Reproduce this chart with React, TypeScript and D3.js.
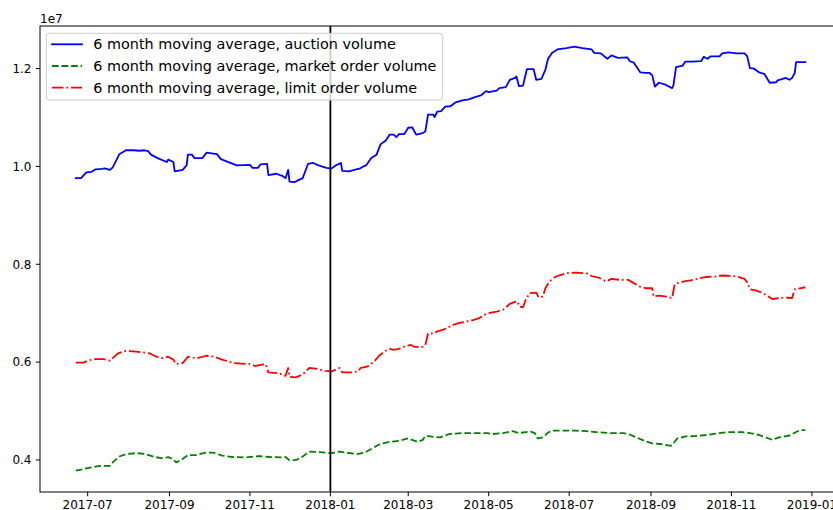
import * as d3 from "d3";

// 6-month moving averages, values in millions (axis shows them as x1e7)
const auctionDates = [
  "2017-06-22", "2017-06-26", "2017-06-30", "2017-07-04", "2017-07-07", "2017-07-12", "2017-07-14", "2017-07-18", "2017-07-20", "2017-07-23",
  "2017-07-25", "2017-07-30", "2017-08-05", "2017-08-09", "2017-08-13", "2017-08-16", "2017-08-18", "2017-08-23", "2017-08-30", "2017-08-31",
  "2017-09-04", "2017-09-05", "2017-09-11", "2017-09-14", "2017-09-15", "2017-09-18", "2017-09-20", "2017-09-26", "2017-09-29", "2017-10-07",
  "2017-10-10", "2017-10-22", "2017-11-01", "2017-11-03", "2017-11-07", "2017-11-09", "2017-11-14", "2017-11-15", "2017-11-21", "2017-11-26",
  "2017-11-28", "2017-11-30", "2017-12-01", "2017-12-05", "2017-12-07", "2017-12-11", "2017-12-15", "2017-12-19", "2017-12-23", "2017-12-29",
  "2018-01-02", "2018-01-05", "2018-01-09", "2018-01-10", "2018-01-15", "2018-01-22", "2018-01-23", "2018-01-26", "2018-01-28", "2018-02-01",
  "2018-02-05", "2018-02-08", "2018-02-12", "2018-02-15", "2018-02-18", "2018-02-20", "2018-02-22", "2018-02-26", "2018-03-01", "2018-03-04",
  "2018-03-07", "2018-03-12", "2018-03-14", "2018-03-16", "2018-03-20", "2018-03-21", "2018-03-23", "2018-03-26", "2018-03-29", "2018-04-02",
  "2018-04-06", "2018-04-11", "2018-04-16", "2018-04-20", "2018-04-25", "2018-04-29", "2018-05-01", "2018-05-07", "2018-05-09", "2018-05-14",
  "2018-05-17", "2018-05-21", "2018-05-22", "2018-05-24", "2018-05-27", "2018-05-30", "2018-06-04", "2018-06-06", "2018-06-10", "2018-06-13",
  "2018-06-15", "2018-06-18", "2018-06-22", "2018-06-29", "2018-07-05", "2018-07-11", "2018-07-18", "2018-07-20", "2018-07-25", "2018-07-29",
  "2018-07-30", "2018-08-02", "2018-08-07", "2018-08-14", "2018-08-16", "2018-08-19", "2018-08-24", "2018-08-28", "2018-08-31", "2018-09-02",
  "2018-09-04", "2018-09-07", "2018-09-12", "2018-09-17", "2018-09-18", "2018-09-20", "2018-09-25", "2018-09-27", "2018-10-02", "2018-10-09",
  "2018-10-11", "2018-10-14", "2018-10-16", "2018-10-23", "2018-10-25", "2018-10-30", "2018-11-05", "2018-11-11", "2018-11-13", "2018-11-15",
  "2018-11-18", "2018-11-22", "2018-11-26", "2018-11-30", "2018-12-05", "2018-12-06", "2018-12-10", "2018-12-12", "2018-12-15", "2018-12-17",
  "2018-12-19", "2018-12-20", "2018-12-27",
];
const auctionVolume = [
  9.76, 9.76, 9.88, 9.89, 9.94, 9.95, 9.96, 9.93, 9.98, 10.14,
  10.25, 10.33, 10.33, 10.32, 10.33, 10.31, 10.24, 10.17, 10.09, 10.14,
  10.09, 9.9, 9.93, 10.02, 10.24, 10.24, 10.17, 10.17, 10.28, 10.25,
  10.15, 10.02, 10.03, 9.97, 9.97, 10.04, 10.05, 9.82, 9.85, 9.8,
  9.76, 9.93, 9.69, 9.68, 9.71, 9.76, 10.05, 10.07, 10.02, 9.97,
  9.96, 10.02, 10.07, 9.91, 9.9, 9.95, 9.95, 10.0, 10.02, 10.17,
  10.24, 10.45, 10.53, 10.65, 10.65, 10.6, 10.66, 10.66, 10.79, 10.8,
  10.65, 10.68, 10.72, 11.06, 11.06, 11.01, 11.12, 11.13, 11.22, 11.23,
  11.31, 11.35, 11.37, 11.41, 11.45, 11.54, 11.52, 11.55, 11.6, 11.62,
  11.77, 11.81, 11.84, 11.64, 11.65, 11.99, 11.99, 11.77, 11.79, 11.98,
  12.2, 12.32, 12.39, 12.42, 12.45, 12.42, 12.39, 12.32, 12.31, 12.22,
  12.2, 12.27, 12.22, 12.23, 12.15, 12.12, 11.92, 11.91, 11.91, 11.86,
  11.63, 11.71, 11.67, 11.6, 11.65, 12.03, 12.06, 12.14, 12.14, 12.15,
  12.24, 12.2, 12.25, 12.25, 12.31, 12.33, 12.31, 12.31, 12.25, 12.01,
  12.0, 11.92, 11.89, 11.71, 11.72, 11.76, 11.79, 11.81, 11.77, 11.81,
  11.91, 12.13, 12.13,
];

const marketDates = [
  "2017-06-22", "2017-06-26", "2017-07-02", "2017-07-10", "2017-07-18", "2017-07-20", "2017-07-25", "2017-07-30", "2017-08-07", "2017-08-14",
  "2017-08-21", "2017-08-27", "2017-08-31", "2017-09-04", "2017-09-06", "2017-09-10", "2017-09-15", "2017-09-21", "2017-09-29", "2017-10-04",
  "2017-10-11", "2017-10-19", "2017-10-29", "2017-11-08", "2017-11-16", "2017-11-26", "2017-11-28", "2017-12-01", "2017-12-06", "2017-12-11",
  "2017-12-16", "2017-12-24", "2018-01-02", "2018-01-08", "2018-01-13", "2018-01-21", "2018-01-27", "2018-02-02", "2018-02-08", "2018-02-15",
  "2018-02-22", "2018-03-01", "2018-03-08", "2018-03-12", "2018-03-14", "2018-03-18", "2018-03-25", "2018-04-01", "2018-04-11", "2018-04-24",
  "2018-04-30", "2018-05-04", "2018-05-12", "2018-05-19", "2018-05-24", "2018-05-29", "2018-06-02", "2018-06-05", "2018-06-07", "2018-06-11",
  "2018-06-15", "2018-06-18", "2018-06-26", "2018-07-06", "2018-07-14", "2018-07-21", "2018-07-31", "2018-08-11", "2018-08-15", "2018-08-21",
  "2018-08-27", "2018-09-02", "2018-09-10", "2018-09-16", "2018-09-18", "2018-09-21", "2018-09-27", "2018-10-05", "2018-10-13", "2018-10-23",
  "2018-10-30", "2018-11-09", "2018-11-15", "2018-11-22", "2018-11-27", "2018-12-02", "2018-12-07", "2018-12-15", "2018-12-20", "2018-12-23",
  "2018-12-27",
];
const marketVolume = [
  3.78, 3.8, 3.84, 3.88, 3.88, 3.95, 4.07, 4.12, 4.14, 4.12,
  4.06, 4.03, 4.06, 4.01, 3.95, 4.0, 4.1, 4.1, 4.15, 4.15,
  4.09, 4.06, 4.05, 4.08, 4.06, 4.05, 4.06, 3.99, 4.0, 4.07,
  4.17, 4.16, 4.14, 4.17, 4.15, 4.12, 4.15, 4.24, 4.33, 4.37,
  4.39, 4.44, 4.37, 4.41, 4.49, 4.48, 4.46, 4.53, 4.55, 4.55,
  4.55, 4.53, 4.55, 4.59, 4.55, 4.57, 4.58, 4.55, 4.44, 4.46,
  4.56, 4.6, 4.6, 4.6, 4.59, 4.57, 4.55, 4.55, 4.53, 4.46,
  4.39, 4.34, 4.32, 4.29, 4.34, 4.44, 4.48, 4.49, 4.51, 4.55,
  4.57, 4.57, 4.55, 4.51, 4.46, 4.41, 4.46, 4.5, 4.57, 4.61,
  4.61,
];

const limitDates = [
  "2017-06-22", "2017-06-28", "2017-07-01", "2017-07-06", "2017-07-13", "2017-07-18", "2017-07-20", "2017-07-24", "2017-07-30", "2017-08-05",
  "2017-08-12", "2017-08-17", "2017-08-22", "2017-08-27", "2017-08-31", "2017-09-04", "2017-09-06", "2017-09-11", "2017-09-15", "2017-09-19",
  "2017-09-22", "2017-09-29", "2017-10-05", "2017-10-11", "2017-10-20", "2017-11-01", "2017-11-05", "2017-11-08", "2017-11-13", "2017-11-15",
  "2017-11-23", "2017-11-28", "2017-11-30", "2017-12-01", "2017-12-06", "2017-12-11", "2017-12-16", "2017-12-22", "2017-12-28", "2018-01-02",
  "2018-01-08", "2018-01-10", "2018-01-17", "2018-01-22", "2018-01-24", "2018-01-29", "2018-02-03", "2018-02-07", "2018-02-11", "2018-02-15",
  "2018-02-18", "2018-02-22", "2018-02-27", "2018-03-03", "2018-03-06", "2018-03-12", "2018-03-14", "2018-03-16", "2018-03-21", "2018-03-23",
  "2018-03-27", "2018-03-30", "2018-04-04", "2018-04-09", "2018-04-14", "2018-04-19", "2018-04-24", "2018-04-28", "2018-05-01", "2018-05-07",
  "2018-05-12", "2018-05-17", "2018-05-21", "2018-05-23", "2018-05-24", "2018-05-27", "2018-05-29", "2018-06-01", "2018-06-06", "2018-06-08",
  "2018-06-11", "2018-06-13", "2018-06-16", "2018-06-21", "2018-06-29", "2018-07-06", "2018-07-15", "2018-07-18", "2018-07-24", "2018-07-29",
  "2018-08-02", "2018-08-09", "2018-08-15", "2018-08-18", "2018-08-23", "2018-08-28", "2018-09-02", "2018-09-03", "2018-09-07", "2018-09-13",
  "2018-09-17", "2018-09-19", "2018-09-22", "2018-09-26", "2018-10-01", "2018-10-09", "2018-10-13", "2018-10-20", "2018-10-25", "2018-11-01",
  "2018-11-05", "2018-11-11", "2018-11-13", "2018-11-15", "2018-11-20", "2018-11-25", "2018-11-29", "2018-12-02", "2018-12-07", "2018-12-12",
  "2018-12-17", "2018-12-19", "2018-12-27",
];
const limitVolume = [
  5.99, 5.99, 6.03, 6.06, 6.06, 6.03, 6.08, 6.18, 6.23, 6.22,
  6.2, 6.18, 6.11, 6.08, 6.11, 6.05, 5.96, 5.98, 6.11, 6.09,
  6.08, 6.13, 6.11, 6.05, 5.98, 5.96, 5.92, 5.94, 5.96, 5.79,
  5.77, 5.72, 5.88, 5.7, 5.69, 5.75, 5.88, 5.86, 5.82, 5.81,
  5.88, 5.79, 5.79, 5.81, 5.88, 5.91, 6.01, 6.13, 6.22, 6.27,
  6.25, 6.27, 6.33, 6.35, 6.31, 6.31, 6.35, 6.58, 6.59, 6.63,
  6.66, 6.69, 6.76, 6.8, 6.83, 6.86, 6.9, 6.97, 7.0, 7.03,
  7.07, 7.19, 7.23, 7.24, 7.14, 7.12, 7.27, 7.41, 7.42, 7.32,
  7.34, 7.51, 7.65, 7.75, 7.82, 7.83, 7.81, 7.76, 7.72, 7.65,
  7.7, 7.68, 7.68, 7.63, 7.55, 7.51, 7.51, 7.34, 7.36, 7.34,
  7.31, 7.59, 7.62, 7.65, 7.67, 7.72, 7.74, 7.75, 7.77, 7.76,
  7.75, 7.7, 7.63, 7.49, 7.46, 7.41, 7.34, 7.29, 7.31, 7.32,
  7.31, 7.49, 7.53,
];

const seriesLabels = [
  "6 month moving average, auction volume",
  "6 month moving average, market order volume",
  "6 month moving average, limit order volume",
];

const xTickDates = [
  "2017-07-01", "2017-09-01", "2017-11-01", "2018-01-01", "2018-03-01",
  "2018-05-01", "2018-07-01", "2018-09-01", "2018-11-01", "2019-01-01",
];
const yTickValues = [4, 6, 8, 10, 12];
const markerDate = "2018-01-01";

const W = 833;
const H = 510;
const box = { left: 40, right: 844, top: 26, bottom: 492 };
const FONT = "DejaVu Sans, sans-serif";

const parse = d3.utcParse("%Y-%m-%d");
const fmt = d3.utcFormat("%Y-%m");

export default function App() {
  const x = d3
    .scaleUtc()
    .domain([new Date(Date.UTC(2017, 4, 25, 21)), new Date(Date.UTC(2019, 0, 25, 8))])
    .range([box.left, box.right]);
  const y = d3.scaleLinear().domain([3.345, 12.87]).range([box.bottom, box.top]);

  const line = d3
    .line<[Date, number]>()
    .x((d) => x(d[0]))
    .y((d) => y(d[1]));

  const zip = (dates: string[], vals: number[]) =>
    dates.map((s, i) => [parse(s) as Date, vals[i]] as [Date, number]);

  const series = [
    { label: seriesLabels[0], pts: zip(auctionDates, auctionVolume), color: "#0000ff", dash: undefined, cap: "square" },
    { label: seriesLabels[1], pts: zip(marketDates, marketVolume), color: "#008000", dash: "6.66 2.88", cap: "butt" },
    { label: seriesLabels[2], pts: zip(limitDates, limitVolume), color: "#ff0000", dash: "11.5 2.88 1.8 2.88", cap: "butt" },
  ];

  const mx = x(parse(markerDate) as Date);

  return (
    <svg
      width={W}
      height={H}
      style={{ position: "absolute", left: 0, top: 0, background: "#fff" }}
      fontFamily={FONT}
    >
      {/* data lines */}
      {series.map((s) => (
        <path
          key={s.label}
          d={line(s.pts) || ""}
          fill="none"
          stroke={s.color}
          strokeWidth={1.8}
          strokeDasharray={s.dash}
          strokeLinejoin="round"
          strokeLinecap={s.cap as any}
        />
      ))}

      {/* vertical marker */}
      <line x1={mx} x2={mx} y1={box.top} y2={box.bottom} stroke="#000" strokeWidth={1.8} />

      {/* spines */}
      <rect
        x={box.left}
        y={box.top}
        width={box.right - box.left}
        height={box.bottom - box.top}
        fill="none"
        stroke="#000"
        strokeWidth={1}
      />

      {/* x ticks */}
      {xTickDates.map((s) => {
        const px = x(parse(s) as Date);
        return (
          <g key={s}>
            <line x1={px} x2={px} y1={box.bottom} y2={box.bottom + 4.2} stroke="#000" strokeWidth={1} />
            <text x={px} y={box.bottom + 17} fontSize={12} textAnchor="middle" fill="#000">
              {fmt(parse(s) as Date)}
            </text>
          </g>
        );
      })}

      {/* y ticks */}
      {yTickValues.map((v) => {
        const py = y(v);
        return (
          <g key={v}>
            <line x1={box.left - 4.2} x2={box.left} y1={py} y2={py} stroke="#000" strokeWidth={1} />
            <text x={box.left - 8.5} y={py + 4.3} fontSize={12} textAnchor="end" fill="#000">
              {(v / 10).toFixed(1)}
            </text>
          </g>
        );
      })}
      <text x={box.left} y={22.5} fontSize={12} fill="#000">1e7</text>

      {/* legend */}
      <rect x={46.3} y={33.3} width={396.4} height={66.7} rx={3} fill="#fff" fillOpacity={0.8} stroke="#cccccc" strokeWidth={1} />
      {series.map((s, i) => {
        const cy = 44.3 + i * 21.7;
        return (
          <g key={"lg" + i}>
            <line x1={52} x2={82} y1={cy} y2={cy} stroke={s.color} strokeWidth={1.8} strokeDasharray={s.dash} strokeLinecap={s.cap as any} />
            <text x={93.3} y={cy + 5} fontSize={14.4} fill="#000">
              {s.label}
            </text>
          </g>
        );
      })}
    </svg>
  );
}
